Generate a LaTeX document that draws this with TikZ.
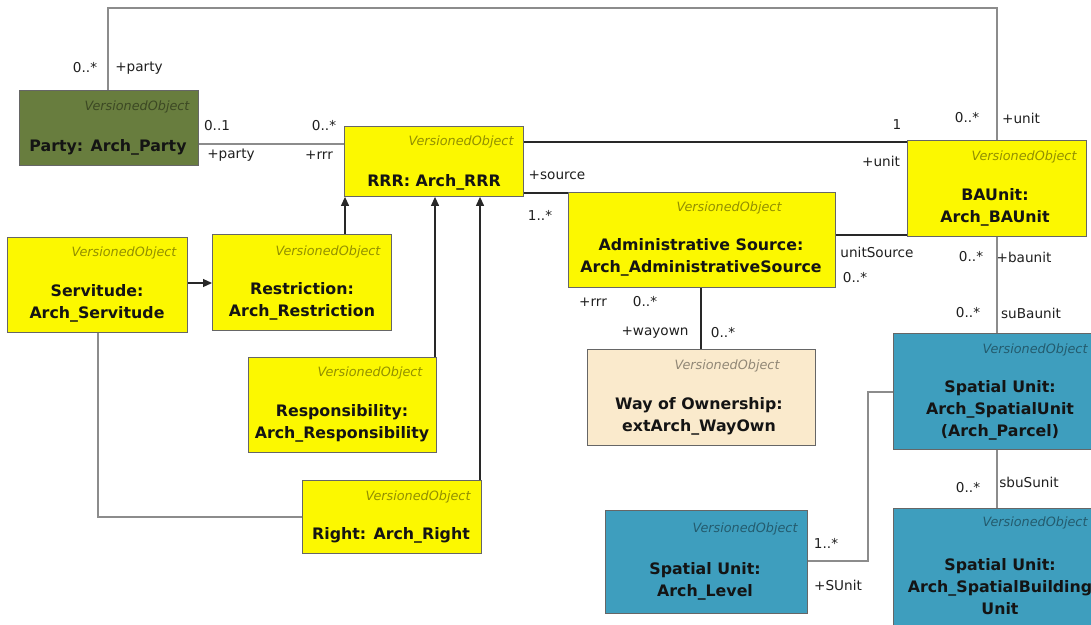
\documentclass[tikz,border=0pt]{standalone}
\usepackage{fontspec}
\setmainfont{DejaVu Sans}
\usetikzlibrary{arrows.meta}

\definecolor{clsyellow}{RGB}{252,248,0}
\definecolor{clsolive}{RGB}{104,125,62}
\definecolor{clsblue}{RGB}{62,158,190}
\definecolor{clsbeige}{RGB}{250,234,204}
\definecolor{lightline}{RGB}{140,140,140}
\definecolor{darkline}{RGB}{40,40,40}

\tikzset{
  cls/.style={draw=black!60, line width=0.9pt, inner sep=0pt, anchor=north west},
  stereo/.style={font=\itshape\fontsize{12.8}{14}\selectfont, text=black, text opacity=0.42, inner sep=0pt},
  ctitle/.style={font=\bfseries\fontsize{15.8}{22}\selectfont, align=center, text=black!92, inner sep=0pt},
  mult/.style={font=\fontsize{13.6}{15}\selectfont, text=black!88, inner sep=0pt},
  gline/.style={draw=lightline, line width=1.3pt},
  dline/.style={draw=darkline, line width=1.2pt},
  gen/.style={draw=darkline, line width=1.2pt, -{Triangle[length=9pt,width=8pt]}},
}

\begin{document}
\begin{tikzpicture}[x=1pt, y=-1pt]
\useasboundingbox (0,0) rectangle (1091,624);
\clip (0,0) rectangle (1091,624);
\fill[white] (0,0) rectangle (1091,624);

% ---------- classes ----------
\node[cls, fill=clsolive, minimum width=179pt, minimum height=75pt] (party) at (19,90) {};
\node[stereo] (party-st) at (137,107) {VersionedObject};
\node[ctitle] (party-t) at (108,147) {Party: Arch\_Party};

\node[cls, fill=clsyellow, minimum width=179pt, minimum height=70pt] (rrr) at (344,126) {};
\node[stereo] (rrr-st) at (461,142) {VersionedObject};
\node[ctitle] (rrr-t) at (434,182) {RRR: Arch\_RRR};

\node[cls, fill=clsyellow, minimum width=180pt, minimum height=95pt] (servitude) at (7,237) {};
\node[stereo] (servitude-st) at (124,253) {VersionedObject};
\node[ctitle] (servitude-t) at (97,303) {Servitude:\\Arch\_Servitude};

\node[cls, fill=clsyellow, minimum width=179pt, minimum height=96pt] (restriction) at (212,234) {};
\node[stereo] (restriction-st) at (328,252) {VersionedObject};
\node[ctitle] (restriction-t) at (302,301) {Restriction:\\Arch\_Restriction};

\node[cls, fill=clsyellow, minimum width=188pt, minimum height=95pt] (respons) at (248,357) {};
\node[stereo] (respons-st) at (370,373) {VersionedObject};
\node[ctitle] (respons-t) at (342,423) {Responsibility:\\Arch\_Responsibility};

\node[cls, fill=clsyellow, minimum width=179pt, minimum height=73pt] (right) at (302,480) {};
\node[stereo] (right-st) at (418,497) {VersionedObject};
\node[ctitle] (right-t) at (391,535) {Right: Arch\_Right};

\node[cls, fill=clsyellow, minimum width=267pt, minimum height=95pt] (admin) at (568,192) {};
\node[stereo] (admin-st) at (729,208) {VersionedObject};
\node[ctitle] (admin-t) at (701,257) {Administrative Source:\\Arch\_AdministrativeSource};

\node[cls, fill=clsyellow, minimum width=179pt, minimum height=96pt] (bau) at (907,140) {};
\node[stereo] (bau-st) at (1024,157) {VersionedObject};
\node[ctitle] (bau-t) at (995,207) {BAUnit:\\Arch\_BAUnit};

\node[cls, fill=clsbeige, minimum width=228pt, minimum height=96pt] (wayown) at (587,349) {};
\node[stereo] (wayown-st) at (727,366) {VersionedObject};
\node[ctitle] (wayown-t) at (699,416) {Way of Ownership:\\extArch\_WayOwn};

\node[cls, fill=clsblue, minimum width=214pt, minimum height=116pt] (spatial) at (893,333) {};
\node[stereo] (spatial-st) at (1035,350) {VersionedObject};
\node[ctitle] (spatial-t) at (1000,410) {Spatial Unit:\\Arch\_SpatialUnit\\(Arch\_Parcel)};

\node[cls, fill=clsblue, minimum width=214pt, minimum height=130pt] (building) at (893,508) {};
\node[stereo] (building-st) at (1035,523) {VersionedObject};
\node[ctitle] (building-t) at (1000,587) {Spatial Unit:\\Arch\_SpatialBuilding\\Unit};

\node[cls, fill=clsblue, minimum width=202pt, minimum height=103pt] (level) at (605,510) {};
\node[stereo] (level-st) at (745,529) {VersionedObject};
\node[ctitle] (level-t) at (705,581) {Spatial Unit:\\Arch\_Level};

% ---------- bend points ----------
\coordinate (loopL) at (108,8);
\coordinate (loopR) at (997,8);
\coordinate (lvlA) at (868,561);
\coordinate (lvlB) at (868,392);
\coordinate (servB) at (98,517);

% ---------- associations ----------
\draw[gline] (party.north -| loopL) -- (loopL) -- (loopR) -- (bau.north -| loopR);
\draw[gline] (party.east |- 0,144) -- (rrr.west |- 0,144);
\draw[dline] (rrr.east |- 0,142) -- (bau.west |- 0,142);
\draw[dline] (rrr.east |- 0,193) -- (admin.west |- 0,193);
\draw[dline] (admin.east |- 0,235) -- (bau.west |- 0,235);
\draw[dline] (admin.south -| 701,0) -- (wayown.north -| 701,0);
\draw[gline] (bau.south -| loopR) -- (spatial.north -| loopR);
\draw[gline] (spatial.south -| loopR) -- (building.north -| loopR);
\draw[gline] (level.east |- lvlA) -- (lvlA) -- (lvlB) -- (spatial.west |- lvlB);
\draw[gline] (servitude.south -| servB) -- (servB) -- (right.west |- servB);

% ---------- generalizations ----------
\draw[gen] (servitude.east |- 0,283) -- (restriction.west |- 0,283);
\draw[gen] (restriction.north -| 345,0) -- (rrr.south -| 345,0);
\draw[gen] (respons.north -| 435,0) -- (rrr.south -| 435,0);
\draw[gen] (right.north -| 480,0) -- (rrr.south -| 480,0);

% ---------- role names and multiplicities ----------
\node[mult] (m1) at (85,68) {0..*};
\node[mult] (m2) at (139,68) {+party};
\node[mult] (m3) at (967,118) {0..*};
\node[mult] (m4) at (1021,118) {+unit};
\node[mult] (m5) at (217,126) {0..1};
\node[mult] (m6) at (231,155) {+party};
\node[mult] (m7) at (324,126) {0..*};
\node[mult] (m8) at (319,155) {+rrr};
\node[mult] (m9) at (897,125) {1};
\node[mult] (m10) at (881,161) {+unit};
\node[mult] (m11) at (557,175) {+source};
\node[mult] (m12) at (540,215) {1..*};
\node[mult] (m13) at (877,252) {unitSource};
\node[mult] (m14) at (855,278) {0..*};
\node[mult] (m15) at (593,302) {+rrr};
\node[mult] (m16) at (645,302) {0..*};
\node[mult] (m17) at (655,333) {+wayown};
\node[mult] (m18) at (723,333) {0..*};
\node[mult] (m19) at (971,257) {0..*};
\node[mult] (m20) at (1024,257) {+baunit};
\node[mult] (m21) at (968,313) {0..*};
\node[mult] (m22) at (1031,313) {suBaunit};
\node[mult] (m23) at (968,488) {0..*};
\node[mult] (m24) at (1029,482) {sbuSunit};
\node[mult] (m25) at (826,543) {1..*};
\node[mult] (m26) at (838,585) {+SUnit};
\end{tikzpicture}
\end{document}
